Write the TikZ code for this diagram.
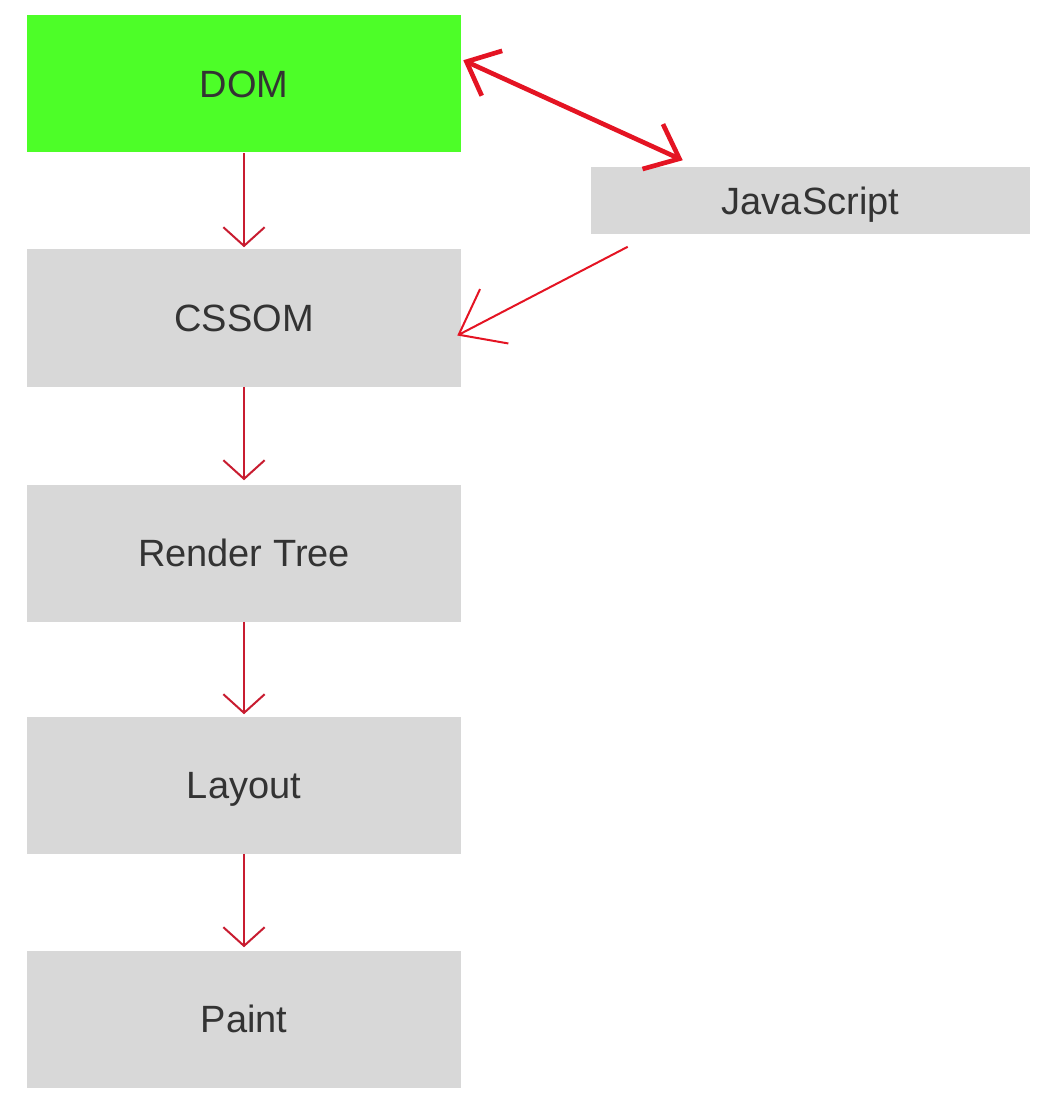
\documentclass[tikz,border=0pt]{standalone}
\usepackage{fontspec}
\setmainfont{Liberation Sans}
\usetikzlibrary{arrows.meta,calc}
\definecolor{boxgray}{RGB}{216,216,216}
\definecolor{domgreen}{RGB}{77,254,40}
\definecolor{txt}{RGB}{51,51,51}
\definecolor{redA}{RGB}{200,28,48}
\definecolor{redB}{RGB}{228,20,35}
\begin{document}
\begin{tikzpicture}[x=0.75pt,y=-0.75pt,
  box/.style={fill=boxgray,draw=none,minimum width=325.5pt,minimum height=102.75pt,
    inner sep=0pt,text=txt,font=\fontsize{28.5}{32}\selectfont,text height=20.4pt,text depth=0pt},
  flow/.style={draw=redA,line width=1.5pt,-{Straight Barb[length=14pt,width=31pt,line width=1.5pt]}},
  thick/.style={draw=redB,line width=3.5pt,{Straight Barb[length=21pt,width=37pt,line width=3.5pt]}-{Straight Barb[length=22pt,width=37pt,line width=3.5pt]}},
  jsarrow/.style={draw=redB,line width=1.5pt,-{Straight Barb[length=30pt,width=46pt,line width=1.5pt]}}
]
\useasboundingbox (0,0) rectangle (1052,1112);
\node[box,fill=domgreen] (dom) at (244,84) {DOM};
\node[box] (cssom) at (244,318) {CSSOM};
\node[box] (render) at (244,553) {Render Tree};
\node[box] (layout) at (244,785) {Layout};
\node[box] (paint) at (244,1019) {Paint};
\node[box,minimum width=329.25pt,minimum height=50.25pt] (js) at (810.5,201) {JavaScript};

\draw[flow] (dom.south) -- ($(cssom.north)+(0,-2)$);
\draw[flow] (cssom.south) -- ($(render.north)+(0,-4)$);
\draw[flow] (render.south) -- ($(layout.north)+(0,-2)$);
\draw[flow] (layout.south) -- ($(paint.north)+(0,-3)$);

\draw[thick] ($(dom.north east)+(2,45)$) -- ($(js.north west)+(92,-7)$);
\draw[jsarrow] ($(js.south west)+(37,12)$) -- ($(cssom.east)+(-4,17.5)$);
\end{tikzpicture}
\end{document}
